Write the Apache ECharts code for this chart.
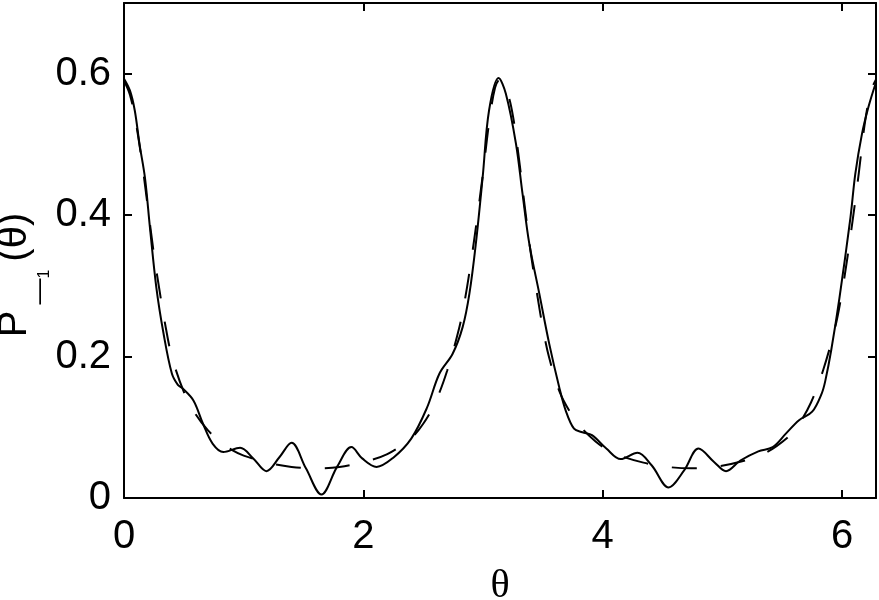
<!DOCTYPE html>
<html>
<head>
<meta charset="utf-8">
<script src="https://cdn.jsdelivr.net/npm/echarts@6/dist/echarts.min.js"></script>
<style>
  html, body { margin: 0; padding: 0; background: #fff; }
  #main { width: 879px; height: 600px; }
</style>
</head>
<body>
<div id="main"></div>
<script>
// solid curve (oscillating)
var thetaSolid = [0, 0.05, 0.09, 0.13, 0.175, 0.217, 0.27, 0.33, 0.40, 0.45, 0.49, 0.58, 0.66, 0.74, 0.83,
  0.97, 1.08, 1.19, 1.30, 1.40, 1.52, 1.65, 1.78, 1.90, 1.99, 2.11, 2.25, 2.40, 2.53, 2.636, 2.746,
  2.83, 2.886, 2.94, 2.997, 3.05, 3.13, 3.19, 3.275, 3.33, 3.386, 3.47, 3.553, 3.636, 3.69, 3.76,
  3.83, 3.91, 4.03, 4.15, 4.29, 4.41, 4.55, 4.68, 4.80, 4.93, 5.03, 5.15, 5.30, 5.42, 5.53, 5.64,
  5.75, 5.83, 5.86, 5.91, 5.977, 6.07, 6.11, 6.166, 6.22, 6.2832];
var pSolid = [0.593, 0.576, 0.548, 0.50, 0.453, 0.382, 0.298, 0.233, 0.176, 0.160, 0.155, 0.138, 0.105, 0.077, 0.065,
  0.071, 0.056, 0.038, 0.058, 0.078, 0.042, 0.005, 0.044, 0.072, 0.056, 0.044, 0.057, 0.084, 0.127, 0.176, 0.204,
  0.242, 0.289, 0.36, 0.454, 0.548, 0.594, 0.572, 0.501, 0.43, 0.36, 0.289, 0.218, 0.157, 0.124, 0.098,
  0.093, 0.089, 0.07, 0.055, 0.064, 0.046, 0.015, 0.039, 0.07, 0.051, 0.038, 0.053, 0.066, 0.072, 0.091, 0.11,
  0.122, 0.148, 0.166, 0.21, 0.282, 0.397, 0.458, 0.515, 0.553, 0.588];

// dashed curve (smooth)
var thetaDashed = [0, 0.05, 0.1, 0.15, 0.2, 0.25, 0.3, 0.35, 0.4, 0.5, 0.6, 0.7, 0.8, 0.9, 1.0, 1.2, 1.4, 1.6,
  1.8, 2.0, 2.2, 2.4, 2.5, 2.6, 2.7, 2.8, 2.85, 2.9, 2.95, 3.0, 3.05, 3.1, 3.14, 3.2, 3.25, 3.3, 3.35,
  3.4, 3.45, 3.5, 3.55, 3.64, 3.74, 3.84, 3.94, 4.04, 4.14, 4.34, 4.54, 4.74, 4.94, 5.14, 5.34, 5.54,
  5.64, 5.74, 5.84, 5.94, 5.99, 6.04, 6.09, 6.14, 6.19, 6.24, 6.2832];
var pDashed = [0.590, 0.570, 0.530, 0.475, 0.410, 0.345, 0.290, 0.240, 0.200, 0.150, 0.118, 0.096, 0.080, 0.068, 0.060, 0.050, 0.044, 0.042,
  0.044, 0.051, 0.062, 0.085, 0.105, 0.135, 0.180, 0.240, 0.282, 0.335, 0.395, 0.460, 0.530, 0.580, 0.592, 0.575, 0.540, 0.480, 0.410,
  0.345, 0.290, 0.240, 0.200, 0.150, 0.118, 0.096, 0.080, 0.068, 0.060, 0.050, 0.044, 0.042, 0.044, 0.051, 0.062, 0.085,
  0.105, 0.135, 0.180, 0.240, 0.282, 0.335, 0.395, 0.460, 0.530, 0.575, 0.592];

var xTicks = [0, 2, 4, 6];
var yTicks = [0, 0.2, 0.4, 0.6];

function pairs(xs, ys) {
  var out = [];
  for (var i = 0; i < xs.length; i++) {
    out.push([xs[i], ys[i]]);
  }
  return out;
}

var font = '"Liberation Sans", Arial, sans-serif';
var axisLine = { show: true, onZero: false, lineStyle: { color: '#000', width: 2 } };
var tick = { show: true, inside: true, length: 8, lineStyle: { color: '#000', width: 2 } };

var chart = echarts.init(document.getElementById('main'), null, { renderer: 'canvas' });

chart.setOption({
  backgroundColor: '#fff',
  animation: false,
  grid: { left: 124, right: 3, top: 3, bottom: 102, containLabel: false, outerBoundsMode: 'none' },
  xAxis: [
    {
      type: 'value',
      position: 'bottom',
      min: 0,
      max: 6.2832,
      interval: 2,
      splitLine: { show: false },
      axisLine: axisLine,
      axisTick: tick,
      axisLabel: {
        margin: 19,
        fontSize: 40,
        color: '#000',
        fontFamily: font,
        showMaxLabel: false,
        formatter: function (v) { return xTicks.indexOf(v) >= 0 ? String(v) : ''; }
      },
      name: 'θ',
      nameLocation: 'middle',
      nameGap: 68,
      nameMoveOverlap: false,
      nameTextStyle: { fontSize: 40, color: '#000', fontFamily: '"Liberation Serif", "Times New Roman", serif' }
    },
    {
      type: 'value',
      position: 'top',
      min: 0,
      max: 6.2832,
      interval: 2,
      splitLine: { show: false },
      axisLine: axisLine,
      axisTick: tick,
      axisLabel: { show: false }
    }
  ],
  yAxis: [
    {
      type: 'value',
      position: 'left',
      min: 0,
      max: 0.7,
      interval: 0.2,
      splitLine: { show: false },
      axisLine: axisLine,
      axisTick: tick,
      axisLabel: {
        margin: 13,
        fontSize: 40,
        color: '#000',
        fontFamily: font,
        showMaxLabel: false,
        formatter: function (v) {
          for (var i = 0; i < yTicks.length; i++) {
            if (Math.abs(v - yTicks[i]) < 1e-9) return String(yTicks[i]);
          }
          return '';
        }
      },
      name: '{p|P}{m|—}{o|1}{q|(θ)}',
      nameLocation: 'middle',
      nameRotate: 90,
      nameGap: 71,
      nameMoveOverlap: false,
      nameTextStyle: {
        color: '#000',
        fontFamily: font,
        rich: {
          p: { fontSize: 40, fontFamily: font, color: '#000', verticalAlign: 'middle' },
          m: { fontSize: 26, fontFamily: font, color: '#000', verticalAlign: 'middle', padding: [50, 0, 0, 6] },
          o: { fontSize: 16, fontFamily: font, color: '#000', verticalAlign: 'middle', padding: [60, 0, 0, 0] },
          q: { fontSize: 40, fontFamily: font, color: '#000', verticalAlign: 'middle', padding: [0, 49, 0, 8] }
        }
      }
    },
    {
      type: 'value',
      position: 'right',
      min: 0,
      max: 0.7,
      interval: 0.2,
      splitLine: { show: false },
      axisLine: axisLine,
      axisTick: tick,
      axisLabel: { show: false }
    }
  ],
  series: [
    {
      type: 'line',
      xAxisIndex: 0,
      yAxisIndex: 0,
      data: pairs(thetaDashed, pDashed),
      showSymbol: false,
      smooth: 0.35,
      lineStyle: { color: '#000', width: 2, type: [25, 24] },
      z: 2
    },
    {
      type: 'line',
      xAxisIndex: 0,
      yAxisIndex: 0,
      data: pairs(thetaSolid, pSolid),
      showSymbol: false,
      smooth: 0.35,
      lineStyle: { color: '#000', width: 2 },
      z: 3
    }
  ]
});
</script>
</body>
</html>
